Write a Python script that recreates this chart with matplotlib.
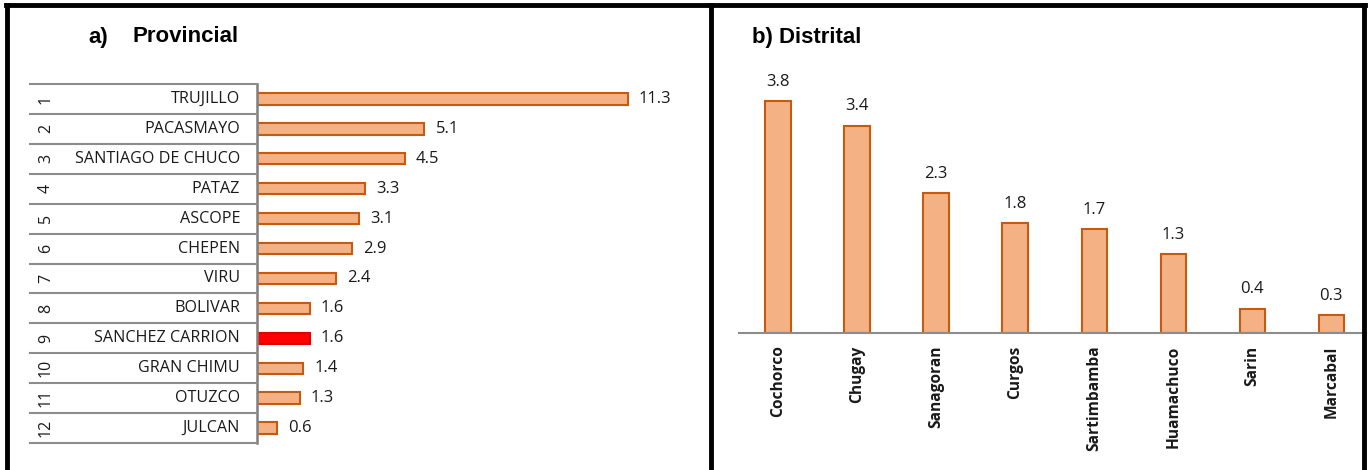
import matplotlib.pyplot as plt
from matplotlib.lines import Line2D

plt.rcParams['font.family'] = ['Open Sans', 'DejaVu Sans']

# data
prov_rank = ['1', '2', '3', '4', '5', '6', '7', '8', '9', '10', '11', '12']
prov_names = ['TRUJILLO', 'PACASMAYO', 'SANTIAGO DE CHUCO', 'PATAZ', 'ASCOPE', 'CHEPEN',
              'VIRU', 'BOLIVAR', 'SANCHEZ CARRION', 'GRAN CHIMU', 'OTUZCO', 'JULCAN']
prov_vals = [11.3, 5.1, 4.5, 3.3, 3.1, 2.9, 2.4, 1.6, 1.6, 1.4, 1.3, 0.6]
highlight = 'SANCHEZ CARRION'

dist_names = ['Cochorco', 'Chugay', 'Sanagoran', 'Curgos', 'Sartimbamba',
              'Huamachuco', 'Sarin', 'Marcabal']
dist_vals = [3.8, 3.4, 2.3, 1.8, 1.7, 1.3, 0.4, 0.3]

W, H = 1368, 470
fig = plt.figure(figsize=(W / 100, H / 100), dpi=100)

def fx(px):
    return px / W

def fy(py):
    return 1 - py / H

fill = '#F4B183'
edge = '#C55A11'
grid = '#8C8C8C'
txt = '#1A1A1A'
title_font = ['Liberation Sans Narrow', 'Liberation Sans', 'DejaVu Sans']

# ---- a) Provincial
top, bot = 84, 443
ax1 = fig.add_axes([fx(257), fy(bot), fx(700) - fx(257), fy(top) - fy(bot)])
cols = ['#FF0000' if n == highlight else fill for n in prov_names]
ecols = ['#E00000' if n == highlight else edge for n in prov_names]
y = list(range(len(prov_vals)))
ax1.barh(y, prov_vals, height=0.38, color=cols, edgecolor=ecols, linewidth=1.5)
ax1.set_ylim(len(prov_vals) - 0.5, -0.5)
ax1.set_xlim(0, 13.5)
for i, v in enumerate(prov_vals):
    ax1.annotate(f'{v:.1f}', (v, i), xytext=(8, 0), textcoords='offset points',
                 va='center', ha='left', fontsize=12, color=txt)
for s in ['top', 'right', 'bottom']:
    ax1.spines[s].set_visible(False)
ax1.spines['left'].set_color('#7F7F7F')
ax1.spines['left'].set_linewidth(1.8)
ax1.set_xticks([])
ax1.set_yticks([])

# table on the left of the axis
row_h = (bot - top) / len(prov_names)
for i in range(len(prov_names) + 1):
    yy = fy(top + i * row_h)
    fig.add_artist(Line2D([fx(30), fx(257)], [yy, yy], color=grid, lw=1.5))
for i, (r, n) in enumerate(zip(prov_rank, prov_names)):
    yc = fy(top + (i + 0.5) * row_h)
    fig.text(fx(46), yc, r, rotation=90, ha='center', va='center',
             fontsize=11.5, color=txt)
    fig.text(fx(240), yc, n, ha='right', va='center', fontsize=11.6, color=txt)

fig.text(fx(88), fy(37), 'a)', fontsize=16, fontweight='bold',
         family=title_font, va='center', ha='left')
fig.text(fx(133), fy(37), 'Provincial', fontsize=16, fontweight='bold',
         family=title_font, va='center', ha='left')

# ---- b) Distrital
ax2 = fig.add_axes([fx(739), fy(333), fx(1366) - fx(739), fy(60) - fy(333)])
x = list(range(len(dist_vals)))
ax2.bar(x, dist_vals, width=0.32, color=fill, edgecolor=edge, linewidth=1.5)
ax2.set_xlim(-0.494, 7.44)
ax2.set_ylim(0, 273 / 61)
for i, v in enumerate(dist_vals):
    ax2.annotate(f'{v:.1f}', (i, v), xytext=(0, 8), textcoords='offset points',
                 ha='center', va='bottom', fontsize=12, color=txt)
for s in ['top', 'right', 'left']:
    ax2.spines[s].set_visible(False)
ax2.spines['bottom'].set_color(grid)
ax2.spines['bottom'].set_linewidth(1.5)
ax2.set_yticks([])
ax2.set_xticks(x)
ax2.set_xticklabels(dist_names, rotation=90, fontweight='bold', fontsize=11.2,
                    color=txt)
ax2.tick_params(axis='x', length=0, pad=9)

fig.text(fx(752), fy(37), 'b) Distrital', fontsize=16, fontweight='bold',
         family=title_font, va='center', ha='left')

# ---- panel frames
frame = dict(color='black', lw=3.5)
fig.add_artist(Line2D([fx(6), fx(1365)], [fy(5), fy(5)], **frame))
fig.add_artist(Line2D([fx(7), fx(7)], [fy(5), fy(470)], **frame))
fig.add_artist(Line2D([fx(711), fx(711)], [fy(5), fy(470)], **frame))
fig.add_artist(Line2D([fx(1364), fx(1364)], [fy(5), fy(470)], **frame))

fig.savefig('out.png', dpi=100)
